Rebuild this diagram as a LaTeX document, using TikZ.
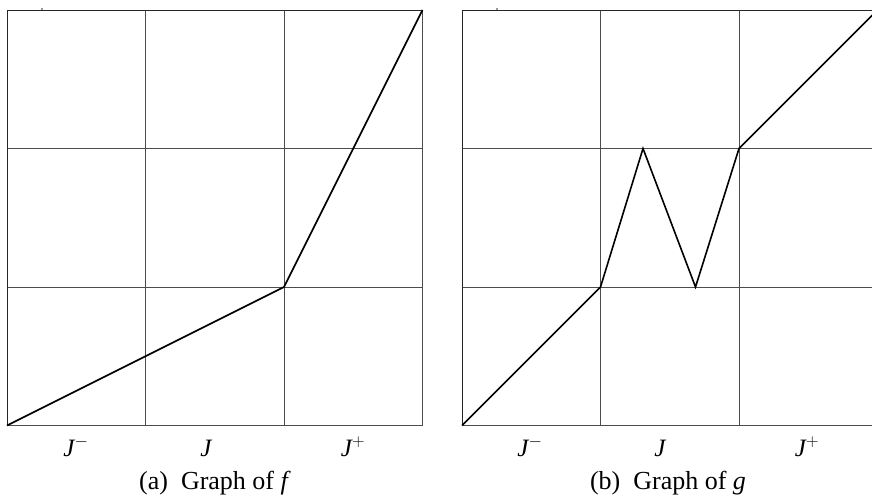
\documentclass[tikz,border=0pt]{standalone}
\usepackage{fontspec}
\setmainfont{Liberation Serif}
\begin{document}
\begin{tikzpicture}[x=1pt,y=-1pt,
  gridline/.style={draw=black!70,line width=1pt},
  frameline/.style={draw=black!85,line width=0.9pt},
  graphline/.style={draw=black,line width=1.6pt,line join=miter},
  axlabel/.style={anchor=base,font=\fontsize{25}{28}\selectfont,inner sep=0pt},
  caplabel/.style={anchor=base,font=\fontsize{26}{30}\selectfont,inner sep=0pt},
  tickmark/.style={draw=black!40,line width=1.2pt}]
\useasboundingbox (0,0) rectangle (872,495);
% ---------- left grid (a) ----------
\begin{scope}[shift={(7,10)}]
  \foreach \i in {1,2} {
    \draw[gridline] (138.5*\i,0) -- (138.5*\i,415.5);
    \draw[gridline] (0,138.5*\i) -- (415.5,138.5*\i);
  }
  \draw[gridline] (415.5,0) -- (415.5,415.5) -- (0,415.5);
  \draw[frameline] (0,415.5) -- (0,0) -- (415.5,0);
  \draw[tickmark] (35,-1.5) -- (35,0);
  \coordinate (fa) at (0,415.5);
  \coordinate (fb) at (277,277);
  \coordinate (fc) at (415.5,0);
  \draw[graphline] (fa) -- (fb) -- (fc);
\end{scope}
\node[axlabel] (lJm) at (76,456) {$\mathit{J}^{-}$};
\node[axlabel] (lJ) at (206,456) {$\mathit{J}$};
\node[axlabel] (lJp) at (353,456) {$\mathit{J}^{+}$};
\node[caplabel] (capa) at (215,489) {(a)\enspace Graph of \textit{f}};
% ---------- right grid (b) ----------
\begin{scope}
\clip (440,0) rectangle (872,495);
\begin{scope}[shift={(462,10)}]
  \foreach \i in {1,2} {
    \draw[gridline] (138.5*\i,0) -- (138.5*\i,415.5);
    \draw[gridline] (0,138.5*\i) -- (415.5,138.5*\i);
  }
  \draw[gridline] (415.5,0) -- (415.5,415.5) -- (0,415.5);
  \draw[frameline] (0,415.5) -- (0,0) -- (415.5,0);
  \draw[tickmark] (35,-1.5) -- (35,0);
  \coordinate (ga) at (0,415.5);
  \coordinate (gb) at (138.5,277);
  \coordinate (gc) at (181,138.5);
  \coordinate (gd) at (233.5,277);
  \coordinate (ge) at (277,138.5);
  \coordinate (gf) at (415.5,0);
  \draw[graphline] (ga) -- (gb) -- (gc) -- (gd) -- (ge) -- (gf);
\end{scope}
\end{scope}
\node[axlabel] (rJm) at (530,456) {$\mathit{J}^{-}$};
\node[axlabel] (rJ) at (660,456) {$\mathit{J}$};
\node[axlabel] (rJp) at (807,456) {$\mathit{J}^{+}$};
\node[caplabel] (capb) at (668,489) {(b)\enspace Graph of \textit{g}};
\end{tikzpicture}
\end{document}
